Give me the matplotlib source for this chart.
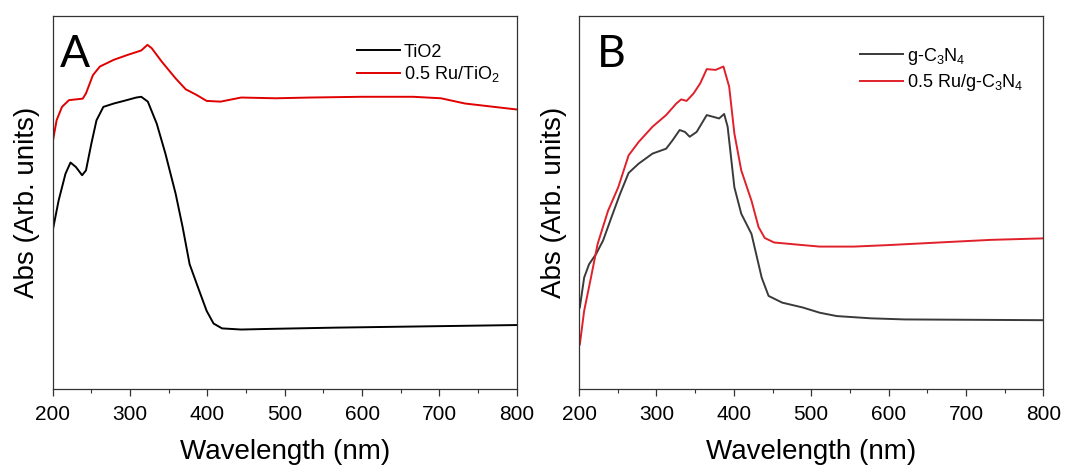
import matplotlib
matplotlib.use("Agg")
import matplotlib.pyplot as plt
from matplotlib.ticker import MultipleLocator

plt.rcParams['font.family'] = ['Liberation Sans', 'DejaVu Sans']
plt.rcParams['mathtext.fontset'] = 'custom'
plt.rcParams['mathtext.rm'] = 'Liberation Sans'

# panel A: TiO2 and Ru/TiO2 (arbitrary units)
wl_tio2 = [200, 207.6, 216.5, 223, 230, 238, 243, 250, 256.6, 265.5, 279, 292, 308, 314.5,
           323, 334.5, 345.7, 359, 368, 377, 388, 399, 408, 419, 443.6, 488, 564, 666, 800]
abs_tio2 = [0.425, 0.505, 0.577, 0.607, 0.595, 0.573, 0.586, 0.658, 0.72, 0.756, 0.765, 0.772,
            0.781, 0.783, 0.77, 0.711, 0.631, 0.523, 0.434, 0.335, 0.272, 0.21, 0.176, 0.163,
            0.160, 0.162, 0.165, 0.168, 0.172]

wl_ru_tio2 = [200, 205, 212, 221, 238.8, 243, 252, 261, 279, 296.7, 314.5, 322.5, 328, 341,
              359, 372, 386, 399, 417, 443.6, 488, 533, 599.5, 666, 702, 733, 800]
abs_ru_tio2 = [0.662, 0.72, 0.756, 0.774, 0.778, 0.792, 0.841, 0.864, 0.882, 0.895, 0.907,
               0.922, 0.913, 0.877, 0.832, 0.803, 0.788, 0.772, 0.770, 0.781, 0.779, 0.781,
               0.783, 0.783, 0.779, 0.765, 0.749]

# panel B: g-C3N4 and Ru/g-C3N4
wl_cn = [201, 206.6, 213, 222, 231, 242, 253, 264, 277, 295, 312.5, 321, 330, 336.8, 343,
         352, 365, 374, 381, 387.5, 392, 400.7, 409.6, 422.8, 436, 444.9, 462.5, 489, 511,
         533, 577, 621, 800]
abs_cn = [0.219, 0.299, 0.335, 0.362, 0.398, 0.461, 0.523, 0.579, 0.604, 0.631, 0.644, 0.667,
          0.694, 0.689, 0.676, 0.689, 0.734, 0.729, 0.725, 0.737, 0.703, 0.541, 0.47, 0.416,
          0.299, 0.25, 0.232, 0.219, 0.205, 0.196, 0.19, 0.187, 0.185]

wl_ru_cn = [201, 206.6, 215.4, 224, 237.5, 250.7, 264, 277, 295, 312.5, 325.7, 332, 339, 348,
            356.6, 365, 376.5, 386.6, 394, 400.7, 409.6, 422.8, 432, 440, 452, 489, 511, 555,
            599.5, 665.4, 732, 800]
abs_ru_cn = [0.12, 0.21, 0.299, 0.389, 0.478, 0.541, 0.626, 0.662, 0.703, 0.734, 0.765, 0.776,
             0.772, 0.792, 0.819, 0.857, 0.855, 0.864, 0.81, 0.685, 0.586, 0.505, 0.434, 0.405,
             0.393, 0.386, 0.382, 0.382, 0.386, 0.393, 0.4, 0.404]

fig = plt.figure(figsize=(10.65, 4.65), dpi=100)
axA = fig.add_axes([0.0495, 0.1628, 0.4357, 0.8034])
axB = fig.add_axes([0.5437, 0.1628, 0.436, 0.8034])


def style(ax):
    ax.set_xlim(200, 800)
    ax.set_ylim(0, 1)
    ax.xaxis.set_major_locator(MultipleLocator(100))
    ax.xaxis.set_minor_locator(MultipleLocator(50))
    ax.tick_params(axis='x', which='major', direction='out', length=5, width=0.9,
                   labelsize=15, pad=6, color='#333333')
    ax.tick_params(axis='x', which='minor', direction='out', length=3, width=0.8,
                   color='#333333')
    ax.set_yticks([])
    for s in ax.spines.values():
        s.set_color('#333333')
        s.set_linewidth(0.9)
    ax.set_xlabel('Wavelength (nm)', fontsize=20, labelpad=11)
    ax.set_ylabel('Abs (Arb. units)', fontsize=20, labelpad=9)


axA.plot(wl_tio2, abs_tio2, color='black', lw=1.4, label='TiO2')
axA.plot(wl_ru_tio2, abs_ru_tio2, color='#e00000', lw=1.4, label=r'0.5 Ru/TiO$_2$')
style(axA)
axA.legend(loc='upper left', bbox_to_anchor=(0.655, 0.925), frameon=False, fontsize=13,
           borderpad=0, borderaxespad=0, handlelength=2.4, handletextpad=0.2,
           labelspacing=0.2)
axA.text(0.016, 0.863, 'A', transform=axA.transAxes, fontsize=32, family='Lato',
         ha='left', va='baseline')

axB.plot(wl_cn, abs_cn, color='#3a3a3a', lw=1.4, label=r'g-C$_3$N$_4$')
axB.plot(wl_ru_cn, abs_ru_cn, color='#e0202a', lw=1.4, label=r'0.5 Ru/g-C$_3$N$_4$')
style(axB)
axB.legend(loc='upper left', bbox_to_anchor=(0.605, 0.92), frameon=False, fontsize=13,
           borderpad=0, borderaxespad=0, handlelength=2.4, handletextpad=0.2,
           labelspacing=0.3)
axB.text(0.038, 0.863, 'B', transform=axB.transAxes, fontsize=32, family='Lato',
         ha='left', va='baseline')

fig.savefig('out.png', dpi=100)
